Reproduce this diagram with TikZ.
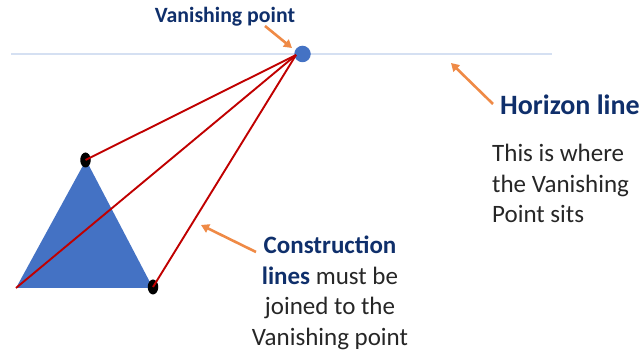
\documentclass[tikz,border=0pt]{standalone}
\usepackage{fontspec}
\setmainfont{Carlito}
\definecolor{navy}{HTML}{0F2F6B}
\definecolor{txt}{HTML}{262626}
\definecolor{orng}{HTML}{ED7D31}
\definecolor{blu}{HTML}{4472C4}
\definecolor{redl}{HTML}{C00000}
\definecolor{hor}{HTML}{D5E0F2}
\usetikzlibrary{arrows.meta,shapes.geometric}
\tikzset{
  x=1pt,y=1pt,
  head/.style={font=\bfseries\fontsize{#1}{#1}\selectfont,text=navy,inner sep=0pt},
  body/.style={font=\fontsize{25}{30.5}\selectfont,text=txt,inner sep=0pt},
  callout/.style={draw=orng!90!white,line width=2.6pt,-{Triangle[length=8pt,width=9pt]}},
  constr/.style={draw=redl,line width=1.9pt},
  dot/.style={draw=none,fill=black,ellipse,inner sep=0pt,minimum width=10.5pt,minimum height=15pt}
}
\begin{document}
\begin{tikzpicture}
\useasboundingbox (0,0) rectangle (643,353);
\coordinate (hl) at (11,299);
\coordinate (hr) at (552,299);
\draw[hor,line width=1.2pt] (hl) -- (hr);
\coordinate (apex) at (86,193);
\coordinate (left) at (16,65);
\coordinate (right) at (153,65);
\fill[blu] (apex) -- (right) -- (left) -- cycle;
\node[dot] (d1) at (85.5,193) {};
\node[dot] (d2) at (153,66) {};
\node[circle,fill=blu,inner sep=0pt,minimum size=16.5pt] (vp) at (302.5,299) {};
\coordinate (conv) at (296,298);
\draw[constr] (d1.center) -- (conv);
\draw[constr] (left) -- (conv);
\draw[constr] (d2.center) -- (conv);
\node[head=21.8,anchor=center] (tvp) at (225,336) {Vanishing point};
\coordinate (a1s) at (265,327);
\coordinate (a1e) at (292,305);
\draw[callout] (a1s) -- (a1e);
\node[head=28,anchor=west] (thl) at (500,248) {Horizon line};
\coordinate (a2s) at (493,249);
\coordinate (a2e) at (451,290);
\draw[callout] (a2s) -- (a2e);
\node[body,align=left,anchor=north west] (tbody) at (492,209) {This is where\\the Vanishing\\Point sits};
\node[body,align=center,anchor=north] (tc) at (330,117) {{\bfseries\color{navy}Construction}\\{\bfseries\color{navy}lines} must be\\joined to the\\Vanishing point};
\coordinate (a3s) at (256,101);
\coordinate (a3e) at (201,128);
\draw[callout] (a3s) -- (a3e);
\end{tikzpicture}
\end{document}
